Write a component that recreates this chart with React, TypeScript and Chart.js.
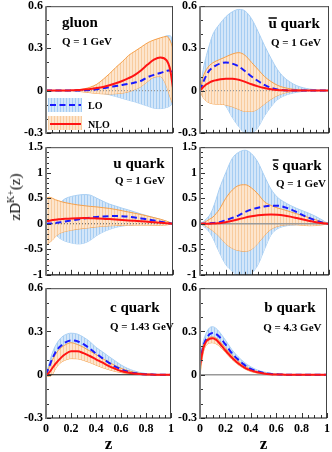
import React, { useEffect, useRef } from 'react';
import { Chart, registerables } from 'chart.js';

Chart.register(...registerables);

// ---------- data ----------
const Z = [0, 0.025, 0.05, 0.075, 0.1, 0.125, 0.15, 0.2, 0.25, 0.3, 0.35, 0.4, 0.45, 0.5, 0.55, 0.6, 0.65, 0.7, 0.75, 0.8, 0.85, 0.9, 0.95, 0.975, 1];

const X_TICKS = [0, 0.2, 0.4, 0.6, 0.8, 1];
const X_TICK_LABELS = ['0', '0.2', '0.4', '0.6', '0.8', '1'];
const Y_TICKS_SMALL = [-0.3, 0, 0.3, 0.6];
const Y_TICK_LABELS_SMALL = ['-0.3', '0', '0.3', '0.6'];
const Y_TICKS_LARGE = [-1, -0.5, 0, 0.5, 1, 1.5];
const Y_TICK_LABELS_LARGE = ['-1', '-0.5', '0', '0.5', '1', '1.5'];

const GLUON_NLO = [0, 0, 0, 0, 0, 0, 0, 0.002, 0.004, 0.008, 0.012, 0.018, 0.026, 0.038, 0.052, 0.068, 0.088, 0.112, 0.145, 0.185, 0.22, 0.236, 0.215, 0.16, 0.02];
const GLUON_LO = [0, 0, 0, 0, 0, 0, 0, 0, 0.001, 0.002, 0.004, 0.01, 0.017, 0.025, 0.032, 0.04, 0.048, 0.057, 0.07, 0.095, 0.112, 0.125, 0.14, 0.145, 0.1];
const GLUON_NLO_HI = [0, 0, 0, 0, 0, 0, 0, 0, 0.004, 0.012, 0.025, 0.045, 0.08, 0.12, 0.165, 0.205, 0.25, 0.28, 0.31, 0.34, 0.36, 0.375, 0.385, 0.36, 0.3];
const GLUON_NLO_LO = [0, 0, 0, 0, 0, 0, 0, 0, -0.004, -0.01, -0.015, -0.02, -0.023, -0.024, -0.022, -0.018, -0.008, 0.008, 0.03, 0.065, 0.095, 0.1, 0.03, -0.04, -0.1];
const GLUON_LO_HI = [0, 0, 0, 0, 0, 0, 0, 0, 0, 0.004, 0.01, 0.018, 0.028, 0.045, 0.065, 0.09, 0.125, 0.165, 0.21, 0.26, 0.31, 0.35, 0.39, 0.39, 0.37];
const GLUON_LO_LO = [0, 0, 0, 0, 0, 0, 0, 0, 0, 0, -0.004, -0.01, -0.02, -0.03, -0.042, -0.055, -0.068, -0.08, -0.095, -0.11, -0.125, -0.128, -0.12, -0.11, -0.09];

const UBAR_NLO = [0, 0.025, 0.045, 0.058, 0.068, 0.074, 0.079, 0.085, 0.085, 0.077, 0.062, 0.045, 0.03, 0.018, 0.009, 0.004, 0.002, 0.001, 0, 0, 0, 0, 0, 0, 0];
const UBAR_LO = [0, 0.06, 0.11, 0.145, 0.165, 0.18, 0.19, 0.2, 0.192, 0.172, 0.138, 0.1, 0.068, 0.04, 0.02, 0.008, 0.003, 0.001, 0, 0, 0, 0, 0, 0, 0];
const UBAR_NLO_HI = [0, 0.1, 0.15, 0.18, 0.198, 0.21, 0.22, 0.24, 0.26, 0.27, 0.25, 0.2, 0.15, 0.1, 0.065, 0.038, 0.022, 0.013, 0.007, 0.003, 0.001, 0, 0, 0, 0];
const UBAR_NLO_LO = [0, -0.05, -0.075, -0.088, -0.094, -0.096, -0.096, -0.102, -0.115, -0.133, -0.148, -0.148, -0.13, -0.095, -0.062, -0.035, -0.018, -0.008, -0.003, 0, 0, 0, 0, 0, 0];
const UBAR_LO_HI = [0, 0.15, 0.25, 0.33, 0.4, 0.44, 0.47, 0.525, 0.56, 0.577, 0.565, 0.51, 0.42, 0.32, 0.23, 0.15, 0.095, 0.06, 0.035, 0.02, 0.011, 0.005, 0.002, 0.001, 0];
const UBAR_LO_LO = [0, -0.045, -0.065, -0.06, -0.045, -0.045, -0.062, -0.11, -0.19, -0.255, -0.3, -0.3, -0.26, -0.18, -0.115, -0.065, -0.038, -0.022, -0.012, -0.005, 0, 0, 0, 0, 0];

const U_NLO = [0.05, 0.06, 0.072, 0.08, 0.087, 0.092, 0.097, 0.105, 0.11, 0.112, 0.11, 0.105, 0.1, 0.092, 0.083, 0.075, 0.066, 0.058, 0.05, 0.04, 0.03, 0.02, 0.01, 0.005, 0];
const U_LO = [0, 0.003, 0.008, 0.016, 0.025, 0.035, 0.045, 0.065, 0.085, 0.103, 0.12, 0.133, 0.143, 0.15, 0.152, 0.148, 0.138, 0.122, 0.105, 0.085, 0.063, 0.04, 0.018, 0.008, 0];
const U_NLO_HI = [0.5, 0.52, 0.5, 0.47, 0.45, 0.43, 0.415, 0.39, 0.37, 0.355, 0.34, 0.33, 0.315, 0.3, 0.28, 0.255, 0.23, 0.205, 0.18, 0.15, 0.12, 0.09, 0.05, 0.025, 0];
const U_NLO_LO = [-0.41, -0.37, -0.32, -0.25, -0.2, -0.17, -0.15, -0.125, -0.105, -0.09, -0.075, -0.06, -0.048, -0.04, -0.033, -0.03, -0.027, -0.025, -0.025, -0.027, -0.03, -0.03, -0.022, -0.012, 0];
const U_LO_HI = [0, 0.08, 0.16, 0.27, 0.37, 0.44, 0.49, 0.535, 0.56, 0.572, 0.56, 0.5, 0.44, 0.385, 0.345, 0.305, 0.27, 0.23, 0.19, 0.155, 0.12, 0.085, 0.05, 0.025, 0];
const U_LO_LO = [0, -0.07, -0.14, -0.21, -0.27, -0.31, -0.34, -0.375, -0.395, -0.38, -0.32, -0.23, -0.16, -0.11, -0.07, -0.045, -0.028, -0.018, -0.01, -0.005, -0.002, 0, 0, 0, 0];

const SBAR_NLO = [0, 0, 0.001, 0.002, 0.004, 0.007, 0.011, 0.03, 0.06, 0.09, 0.12, 0.145, 0.165, 0.178, 0.182, 0.177, 0.163, 0.14, 0.112, 0.083, 0.055, 0.03, 0.012, 0.005, 0];
const SBAR_LO = [0, 0.002, 0.005, 0.01, 0.015, 0.02, 0.03, 0.07, 0.115, 0.165, 0.23, 0.28, 0.315, 0.34, 0.355, 0.355, 0.33, 0.285, 0.225, 0.165, 0.11, 0.06, 0.02, 0.007, 0];
const SBAR_NLO_HI = [0, 0.02, 0.05, 0.09, 0.13, 0.2, 0.28, 0.5, 0.66, 0.75, 0.765, 0.7, 0.58, 0.43, 0.36, 0.31, 0.275, 0.235, 0.195, 0.155, 0.115, 0.075, 0.035, 0.015, 0];
const SBAR_NLO_LO = [0, -0.02, -0.05, -0.09, -0.14, -0.19, -0.25, -0.39, -0.48, -0.525, -0.54, -0.5, -0.38, -0.23, -0.11, -0.05, -0.025, -0.018, -0.02, -0.03, -0.038, -0.035, -0.02, -0.01, 0];
const SBAR_LO_HI = [0, 0.04, 0.1, 0.17, 0.3, 0.48, 0.68, 1.0, 1.28, 1.4, 1.44, 1.37, 1.2, 0.93, 0.68, 0.52, 0.43, 0.36, 0.3, 0.25, 0.2, 0.14, 0.07, 0.03, 0];
const SBAR_LO_LO = [0, -0.04, -0.1, -0.17, -0.28, -0.42, -0.56, -0.8, -0.93, -1.02, -1.04, -0.97, -0.8, -0.5, -0.22, -0.1, -0.05, -0.03, -0.02, -0.012, -0.006, 0, 0, 0, 0];

const C_NLO = [0, 0.015, 0.045, 0.075, 0.1, 0.122, 0.14, 0.162, 0.162, 0.15, 0.13, 0.107, 0.085, 0.062, 0.043, 0.026, 0.016, 0.009, 0.005, 0.002, 0.001, 0, 0, 0, 0];
const C_LO = [0, 0.055, 0.11, 0.155, 0.185, 0.205, 0.222, 0.238, 0.232, 0.212, 0.182, 0.148, 0.115, 0.085, 0.058, 0.038, 0.022, 0.012, 0.006, 0.003, 0.001, 0, 0, 0, 0];
const C_NLO_HI = [0, 0.05, 0.1, 0.14, 0.17, 0.19, 0.205, 0.222, 0.21, 0.19, 0.165, 0.14, 0.113, 0.088, 0.065, 0.045, 0.03, 0.018, 0.01, 0.005, 0.002, 0, 0, 0, 0];
const C_NLO_LO = [-0.012, -0.012, 0, 0.04, 0.07, 0.088, 0.1, 0.112, 0.111, 0.1, 0.085, 0.067, 0.05, 0.036, 0.024, 0.015, 0.008, 0.004, 0.002, 0, 0, 0, 0, 0, 0];
const C_LO_HI = [0, 0.08, 0.15, 0.2, 0.235, 0.26, 0.275, 0.288, 0.282, 0.26, 0.23, 0.19, 0.16, 0.128, 0.098, 0.068, 0.045, 0.028, 0.016, 0.008, 0.004, 0.002, 0, 0, 0];
const C_LO_LO = [0, 0.03, 0.07, 0.11, 0.14, 0.16, 0.172, 0.187, 0.18, 0.16, 0.13, 0.1, 0.075, 0.052, 0.034, 0.02, 0.011, 0.006, 0.003, 0, 0, 0, 0, 0, 0];

const B_NLO = [0.06, 0.18, 0.232, 0.248, 0.253, 0.243, 0.222, 0.168, 0.12, 0.08, 0.05, 0.03, 0.017, 0.009, 0.004, 0.002, 0.001, 0, 0, 0, 0, 0, 0, 0, 0];
const B_LO = [0.08, 0.195, 0.25, 0.28, 0.29, 0.282, 0.265, 0.21, 0.15, 0.105, 0.068, 0.04, 0.025, 0.013, 0.006, 0.003, 0.001, 0, 0, 0, 0, 0, 0, 0, 0];
const B_NLO_HI = [0.094, 0.2, 0.24, 0.26, 0.262, 0.255, 0.238, 0.185, 0.135, 0.095, 0.062, 0.038, 0.022, 0.012, 0.006, 0.003, 0.001, 0, 0, 0, 0, 0, 0, 0, 0];
const B_NLO_LO = [0, 0.15, 0.205, 0.22, 0.222, 0.215, 0.2, 0.155, 0.108, 0.07, 0.042, 0.022, 0.012, 0.006, 0.003, 0.001, 0, 0, 0, 0, 0, 0, 0, 0, 0];
const B_LO_HI = [0.117, 0.23, 0.29, 0.325, 0.333, 0.322, 0.3, 0.24, 0.175, 0.125, 0.085, 0.055, 0.033, 0.02, 0.011, 0.006, 0.003, 0.001, 0, 0, 0, 0, 0, 0, 0];
const B_LO_LO = [0.04, 0.17, 0.22, 0.24, 0.245, 0.235, 0.22, 0.17, 0.12, 0.08, 0.05, 0.03, 0.016, 0.008, 0.004, 0.002, 0, 0, 0, 0, 0, 0, 0, 0, 0];

// ---------- styles / layout ----------
const RED = '#ff1414';
const BLUE = '#1a1aff';
const ORANGE = '#f6a04a';
const LIGHTBLUE = '#a9cff3';
const SERIF = '"Liberation Serif", "Times New Roman", serif';
const TICK_FONT = { family: SERIF, size: 12, weight: 'bold' as const };

const COLS = [{ L: 46, R: 173 }, { L: 200, R: 329 }];
const ROWS = [{ T: 6, B: 135 }, { T: 147, B: 277 }, { T: 288, B: 418 }];
const Y_AXIS_W = 40;
const PAD_T = 10;
const PAD_R = 5;

type PanelCfg = {
  col: number; row: number;
  title: string; bar: boolean; q: string;
  titleX: number; titleY: number; qX: number; qY: number;
  yMin: number; yMax: number; yTicks: number[]; yLabels: string[];
  nlo: number[]; lo: number[]; nloHi: number[]; nloLo: number[]; loHi: number[]; loLo: number[];
  zeroColor: string; zeroDash: number[]; zeroW: number;
  legend?: boolean;
};

const PANELS: PanelCfg[] = [
  { col: 0, row: 0, title: 'gluon', bar: false, q: 'Q = 1 GeV', titleX: 62, titleY: 26.5, qX: 62, qY: 45,
    yMin: -0.3, yMax: 0.6, yTicks: Y_TICKS_SMALL, yLabels: Y_TICK_LABELS_SMALL,
    nlo: GLUON_NLO, lo: GLUON_LO, nloHi: GLUON_NLO_HI, nloLo: GLUON_NLO_LO, loHi: GLUON_LO_HI, loLo: GLUON_LO_LO,
    zeroColor: '#999999', zeroDash: [1, 2], zeroW: 1.2, legend: true },
  { col: 1, row: 0, title: 'u quark', bar: true, q: 'Q = 1 GeV', titleX: 268.5, titleY: 28, qX: 271, qY: 45.7,
    yMin: -0.3, yMax: 0.6, yTicks: Y_TICKS_SMALL, yLabels: Y_TICK_LABELS_SMALL,
    nlo: UBAR_NLO, lo: UBAR_LO, nloHi: UBAR_NLO_HI, nloLo: UBAR_NLO_LO, loHi: UBAR_LO_HI, loLo: UBAR_LO_LO,
    zeroColor: '#999999', zeroDash: [1, 2], zeroW: 1.2 },
  { col: 0, row: 1, title: 'u quark', bar: false, q: 'Q = 1 GeV', titleX: 113.3, titleY: 167.7, qX: 115, qY: 184.3,
    yMin: -1, yMax: 1.5, yTicks: Y_TICKS_LARGE, yLabels: Y_TICK_LABELS_LARGE,
    nlo: U_NLO, lo: U_LO, nloHi: U_NLO_HI, nloLo: U_NLO_LO, loHi: U_LO_HI, loLo: U_LO_LO,
    zeroColor: '#555555', zeroDash: [1, 2], zeroW: 1 },
  { col: 1, row: 1, title: 's quark', bar: true, q: 'Q = 1 GeV', titleX: 272.7, titleY: 170, qX: 276, qY: 186.7,
    yMin: -1, yMax: 1.5, yTicks: Y_TICKS_LARGE, yLabels: Y_TICK_LABELS_LARGE,
    nlo: SBAR_NLO, lo: SBAR_LO, nloHi: SBAR_NLO_HI, nloLo: SBAR_NLO_LO, loHi: SBAR_LO_HI, loLo: SBAR_LO_LO,
    zeroColor: '#9a9a9a', zeroDash: [], zeroW: 1.5 },
  { col: 0, row: 2, title: 'c quark', bar: false, q: 'Q = 1.43 GeV', titleX: 110, titleY: 312.3, qX: 110, qY: 330,
    yMin: -0.3, yMax: 0.6, yTicks: Y_TICKS_SMALL, yLabels: Y_TICK_LABELS_SMALL,
    nlo: C_NLO, lo: C_LO, nloHi: C_NLO_HI, nloLo: C_NLO_LO, loHi: C_LO_HI, loLo: C_LO_LO,
    zeroColor: '#111111', zeroDash: [], zeroW: 1.2 },
  { col: 1, row: 2, title: 'b quark', bar: false, q: 'Q = 4.3 GeV', titleX: 264.3, titleY: 312.3, qX: 263.3, qY: 331,
    yMin: -0.3, yMax: 0.6, yTicks: Y_TICKS_SMALL, yLabels: Y_TICK_LABELS_SMALL,
    nlo: B_NLO, lo: B_LO, nloHi: B_NLO_HI, nloLo: B_NLO_LO, loHi: B_LO_HI, loLo: B_LO_LO,
    zeroColor: '#999999', zeroDash: [], zeroW: 1.5 },
];

function makePattern(dark: string, light: string): CanvasPattern | string {
  const cv = document.createElement('canvas');
  cv.width = 3;
  cv.height = 4;
  const g = cv.getContext('2d');
  if (!g) return light;
  g.fillStyle = light;
  g.fillRect(0, 0, 3, 4);
  g.fillStyle = dark;
  g.fillRect(0, 0, 1, 4);
  return g.createPattern(cv, 'repeat') || light;
}

function Panel({ cfg }: { cfg: PanelCfg }) {
  const ref = useRef<HTMLCanvasElement>(null);
  const { L, R } = COLS[cfg.col];
  const { T, B } = ROWS[cfg.row];
  const bottomRow = cfg.row === 2;
  const xAxisH = bottomRow ? 36 : 8;
  const cLeft = L - Y_AXIS_W;
  const cTop = T - PAD_T;
  const W = R - L + Y_AXIS_W + PAD_R;
  const H = B - T + PAD_T + xAxisH;

  useEffect(() => {
    const canvas = ref.current;
    if (!canvas) return;
    const blueFill = makePattern('#a6cdf2', '#d3e6f9');
    const orangeFill = makePattern('#f8cc9f', '#fde5cd');
    const pts = (arr: number[]) => Z.map((z, i) => ({ x: z, y: arr[i] }));

    const decor = {
      id: 'decor',
      afterDatasetsDraw(chart: any) {
        const ctx: CanvasRenderingContext2D = chart.ctx;
        const a = chart.chartArea;
        const xs = chart.scales.x;
        const ys = chart.scales.y;
        ctx.save();
        // minor / major ticks (inside)
        ctx.strokeStyle = '#333';
        ctx.lineWidth = 1;
        ctx.beginPath();
        for (let k = 0; k <= 20; k++) {
          const px = Math.round(xs.getPixelForValue(k * 0.05)) + 0.5;
          const len = k % 4 === 0 ? 5 : 3;
          ctx.moveTo(px, a.bottom);
          ctx.lineTo(px, a.bottom - len);
        }
        const nY = Math.round((cfg.yMax - cfg.yMin) / 0.1);
        for (let k = 0; k <= nY; k++) {
          const v = cfg.yMin + k * 0.1;
          const py = Math.round(ys.getPixelForValue(v)) + 0.5;
          const major = cfg.yTicks.some((t) => Math.abs(t - v) < 1e-6);
          ctx.moveTo(a.left, py);
          ctx.lineTo(a.left + (major ? 5 : 3), py);
        }
        ctx.stroke();
        // frame
        ctx.lineWidth = 1;
        ctx.strokeStyle = '#444';
        ctx.beginPath();
        ctx.moveTo(a.left, a.top + 0.5);
        ctx.lineTo(a.right, a.top + 0.5);
        ctx.moveTo(a.right - 0.5, a.top);
        ctx.lineTo(a.right - 0.5, a.bottom);
        ctx.stroke();
        ctx.strokeStyle = '#111';
        ctx.lineWidth = 1.2;
        ctx.beginPath();
        ctx.moveTo(a.left, a.bottom);
        ctx.lineTo(a.right, a.bottom);
        ctx.stroke();
        ctx.strokeStyle = '#7a7a7a';
        ctx.lineWidth = 2;
        ctx.beginPath();
        ctx.moveTo(a.left, a.top);
        ctx.lineTo(a.left, a.bottom + 1);
        ctx.stroke();

        // titles
        ctx.fillStyle = '#000';
        ctx.textBaseline = 'alphabetic';
        ctx.textAlign = 'left';
        ctx.font = `bold 15px ${SERIF}`;
        const tx = cfg.titleX - cLeft;
        const ty = cfg.titleY - cTop;
        ctx.fillText(cfg.title, tx, ty);
        if (cfg.bar) {
          const w = ctx.measureText(cfg.title.charAt(0)).width;
          ctx.strokeStyle = '#000';
          ctx.lineWidth = 1.5;
          ctx.beginPath();
          ctx.moveTo(tx, ty - 10);
          ctx.lineTo(tx + w, ty - 10);
          ctx.stroke();
        }
        ctx.font = `bold 11px ${SERIF}`;
        ctx.fillText(cfg.q, cfg.qX - cLeft, cfg.qY - cTop);

        // legend
        if (cfg.legend) {
          const ox = -cLeft;
          const oy = -cTop;
          ctx.fillStyle = blueFill as any;
          ctx.fillRect(48 + ox, 98 + oy, 34, 14);
          ctx.fillStyle = orangeFill as any;
          ctx.fillRect(48 + ox, 116 + oy, 34, 14);
          ctx.lineWidth = 2;
          ctx.strokeStyle = BLUE;
          ctx.setLineDash([6, 3.5]);
          ctx.beginPath();
          ctx.moveTo(50 + ox, 105 + oy);
          ctx.lineTo(81 + ox, 105 + oy);
          ctx.stroke();
          ctx.setLineDash([]);
          ctx.strokeStyle = RED;
          ctx.beginPath();
          ctx.moveTo(50 + ox, 124 + oy);
          ctx.lineTo(81 + ox, 124 + oy);
          ctx.stroke();
          ctx.fillStyle = '#000';
          ctx.font = `bold 10px ${SERIF}`;
          ctx.fillText('LO', 88 + ox, 109 + oy);
          ctx.fillText('NLO', 88 + ox, 128 + oy);
        }

        // x axis title
        if (bottomRow) {
          ctx.fillStyle = '#000';
          ctx.font = `bold 17px ${SERIF}`;
          ctx.textAlign = 'center';
          ctx.textBaseline = 'middle';
          ctx.fillText('z', (a.left + a.right) / 2, 445 - cTop);
        }
        ctx.restore();
      },
    };

    const chart = new Chart(canvas, {
      type: 'line',
      data: {
        datasets: [
          { label: 'NLO', data: pts(cfg.nlo), borderColor: RED, borderWidth: 2, fill: false, order: 0 },
          { label: 'LO', data: pts(cfg.lo), borderColor: BLUE, borderWidth: 2, borderDash: [6, 3.5], fill: false, order: 1 },
          { label: 'zero', data: [{ x: 0, y: 0 }, { x: 1, y: 0 }], borderColor: cfg.zeroColor, borderWidth: cfg.zeroW, borderDash: cfg.zeroDash, fill: false, order: 2 },
          { label: 'NLO band upper', data: pts(cfg.nloHi), borderColor: ORANGE, borderWidth: 1, fill: '+1', backgroundColor: orangeFill as any, order: 3 },
          { label: 'NLO band lower', data: pts(cfg.nloLo), borderColor: ORANGE, borderWidth: 1, fill: false, order: 4 },
          { label: 'LO band upper', data: pts(cfg.loHi), borderColor: LIGHTBLUE, borderWidth: 1, fill: '+1', backgroundColor: blueFill as any, order: 5 },
          { label: 'LO band lower', data: pts(cfg.loLo), borderColor: LIGHTBLUE, borderWidth: 1, fill: false, order: 6 },
        ],
      },
      options: {
        animation: false,
        responsive: false,
        devicePixelRatio: 1,
        events: [],
        layout: { padding: { left: 0, right: PAD_R, top: PAD_T, bottom: 0 } },
        elements: {
          point: { radius: 0 },
          line: { cubicInterpolationMode: 'monotone' },
        },
        plugins: { legend: { display: false }, tooltip: { enabled: false } },
        scales: {
          x: {
            type: 'linear',
            min: 0,
            max: 1,
            grid: { display: false, drawTicks: false, tickLength: 0 },
            border: { display: false },
            afterBuildTicks: (s: any) => { s.ticks = X_TICKS.map((v) => ({ value: v })); },
            afterFit: (s: any) => { s.height = xAxisH; },
            ticks: {
              display: bottomRow,
              padding: 4,
              autoSkip: false,
              maxRotation: 0,
              color: '#000',
              font: TICK_FONT,
              callback: (_v: any, i: number) => X_TICK_LABELS[i],
            },
          },
          y: {
            type: 'linear',
            min: cfg.yMin,
            max: cfg.yMax,
            grid: { display: false, drawTicks: false, tickLength: 0 },
            border: { display: false },
            afterBuildTicks: (s: any) => { s.ticks = cfg.yTicks.map((v) => ({ value: v })); },
            afterFit: (s: any) => { s.width = Y_AXIS_W; },
            ticks: {
              padding: 3,
              autoSkip: false,
              color: '#000',
              font: TICK_FONT,
              callback: (_v: any, i: number) => cfg.yLabels[i],
            },
          },
        },
      } as any,
      plugins: [decor],
    });
    return () => chart.destroy();
  }, []);

  return (
    <canvas
      ref={ref}
      width={W}
      height={H}
      style={{ position: 'absolute', left: cLeft, top: cTop, width: W, height: H }}
    />
  );
}

export default function App() {
  return (
    <div
      style={{
        position: 'fixed',
        left: 0,
        top: 0,
        width: 332,
        height: 452,
        overflow: 'hidden',
        background: '#fff',
      }}
    >
      {PANELS.map((p, i) => (
        <Panel key={i} cfg={p} />
      ))}
      <div
        style={{
          position: 'absolute',
          left: 16,
          top: 197,
          transform: 'translate(-50%, -50%) rotate(-90deg)',
          fontFamily: SERIF,
          fontSize: 15,
          whiteSpace: 'nowrap',
          lineHeight: '15px',
          color: '#000',
        }}
      >
        zD<sup style={{ fontSize: 10, verticalAlign: 'baseline', position: 'relative', top: -6 }}>K+</sup>(z)
      </div>
    </div>
  );
}
